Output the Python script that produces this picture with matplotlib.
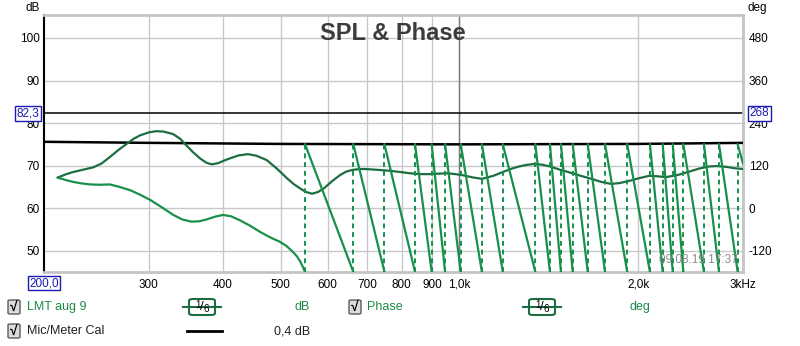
import matplotlib
matplotlib.use('Agg')
import matplotlib.pyplot as plt
from matplotlib.patches import FancyBboxPatch
from matplotlib.lines import Line2D
import numpy as np

plt.rcParams['font.family'] = ['Liberation Sans', 'DejaVu Sans']

# --------------------------------------
# Data
# --------------------------------------
spl_freq = [211, 218, 224, 232, 242, 250, 258, 267, 276, 283, 290, 300, 309, 318,
            330, 339, 347, 356, 366, 375, 383, 393, 402, 411, 425, 441, 456, 474,
            493, 513, 527, 540, 552, 565, 578, 592, 610, 630, 645, 661, 680, 696,
            730, 762, 795, 826, 860, 890, 920, 952, 985, 1017, 1055, 1092, 1140,
            1188, 1225, 1260, 1300, 1342, 1380, 1420, 1480, 1550, 1600, 1658, 1730,
            1800, 1860, 1929, 2000, 2085, 2150, 2226, 2330, 2437, 2530, 2631, 2706,
            2816, 2900, 3000]
spl_db = [67.2, 68.0, 68.5, 69.0, 69.6, 70.5, 72.0, 73.7, 75.2, 76.3, 77.1, 77.8,
          78.1, 78.0, 77.4, 76.3, 74.8, 73.2, 71.7, 70.7, 70.3, 70.6, 71.2, 71.7,
          72.4, 72.7, 72.3, 71.3, 69.3, 67.0, 65.6, 64.6, 63.8, 63.4, 63.8, 64.7,
          66.3, 67.8, 68.6, 69.0, 69.2, 69.2, 69.0, 68.8, 68.5, 68.2, 68.0, 68.0,
          68.1, 68.2, 68.0, 67.7, 67.2, 66.9, 67.6, 68.6, 69.3, 69.8, 70.2, 70.4,
          70.2, 69.8, 69.0, 68.2, 67.6, 67.0, 66.2, 65.7, 65.9, 66.4, 67.0, 67.6,
          67.5, 67.3, 67.8, 68.6, 69.3, 69.8, 69.9, 69.7, 69.4, 69.2]

# phase before the first wrap
phase_freq = [211, 218, 224, 231, 239, 248, 258, 268, 280, 291, 302, 316, 330, 342,
              354, 365, 375, 388, 400, 413, 427, 445, 462, 480, 499, 512, 525, 533,
              540, 546]
phase_deg = [86, 79, 74, 70, 67, 66, 67, 60, 50, 37, 23, 2, -19, -32, -38, -37, -32,
             -24, -19, -23, -34, -50, -67, -82, -95, -107, -124, -136, -151, -168]
# frequencies where phase wraps from -180 to +180
wrap_freq = [550, 663, 748, 842, 898, 946, 1005, 1091, 1183, 1342, 1420, 1482, 1551,
             1644, 1758, 1916, 2092, 2198, 2285, 2381, 2579, 2734, 2939]
phase_end_deg = 126

cal_freq = [200, 300, 500, 1000, 2000, 3000]
cal_db = [75.6, 75.35, 75.1, 75.0, 75.1, 75.35]

x_ticks = [300, 400, 500, 600, 700, 800, 900, 1000, 2000, 3000]
x_labels = ['300', '400', '500', '600', '700', '800', '900', '1,0k', '2,0k', '3kHz']
db_ticks = [50, 60, 70, 80, 90, 100]
deg_ticks = [-120, 0, 120, 240, 360, 480]

spl_color = '#1c6e40'
phase_color = '#17904c'
blue = '#1a1ab4'

W, H = 800, 346


def fx(x):
    return x / W


def fy(y):
    return 1 - y / H


fig = plt.figure(figsize=(8, 3.46), dpi=100)
ax = fig.add_axes([fx(44), fy(272), (743 - 44) / W, (272 - 15) / H])

ax.set_xscale('log')
ax.set_xlim(200, 3000)
ax.set_ylim(45, 105.4)
ax.set_xticks(x_ticks)
ax.set_xticklabels(x_labels)
ax.set_xticks([], minor=True)
ax.set_yticks(db_ticks)
ax.set_yticklabels([str(v) for v in db_ticks])
ax.tick_params(length=0, labelsize=8.5, pad=3)
ax.tick_params(axis='x', pad=5)
ax.grid(True, color='#c8c8c8', linewidth=1)
ax.set_axisbelow(True)
ax.axvline(1000, color='#7a7a7a', linewidth=1, zorder=1)
for side in ['top', 'right', 'bottom']:
    ax.spines[side].set_color('#c4c4c4')
    ax.spines[side].set_linewidth(2)
ax.spines['left'].set_color('black')
ax.spines['left'].set_linewidth(1.5)

# 82,3 marker line
ax.axhline(82.3, color='black', linewidth=1.1, zorder=2)

# curves
ax.plot(cal_freq, cal_db, color='black', linewidth=1.8, zorder=3)
ax.plot(spl_freq, spl_db, color=spl_color, linewidth=1.6, zorder=4)

# phase on the right axis
ax2 = ax.twinx()
ax2.set_ylim((45 - 60) * 12, (105.4 - 60) * 12)
ax2.set_yticks(deg_ticks)
ax2.set_yticklabels([str(v) for v in deg_ticks])
ax2.tick_params(length=0, labelsize=8.5, pad=4)
for side in ax2.spines:
    ax2.spines[side].set_visible(False)

px = list(phase_freq) + [wrap_freq[0]]
py = list(phase_deg) + [-180]
for i in range(len(wrap_freq) - 1):
    px += [np.nan, wrap_freq[i], wrap_freq[i + 1]]
    py += [np.nan, 180, -180]
px += [np.nan, wrap_freq[-1], 3000]
py += [np.nan, 180, phase_end_deg]
ax2.plot(px, py, color=phase_color, linewidth=1.6, zorder=3)
ax2.vlines(wrap_freq, -180, 180, colors=phase_color, linewidth=1.4,
           linestyles=(0, (2.5, 2)), zorder=3)

ax2.text(0.993, 0.025, '09.08.19 17:37', transform=ax2.transAxes, ha='right',
         va='bottom', fontsize=8.5, color='#8a8a8a', zorder=10)

# --------------------------------------
# Titles, unit labels and boxed cursor values
# --------------------------------------
fig.text(fx(393), fy(34), 'SPL & Phase', ha='center', va='center', fontsize=17,
         fontweight='bold', color='#3c3c3c')
fig.text(fx(33), fy(8), 'dB', ha='center', va='center', fontsize=8.5)
fig.text(fx(757), fy(8), 'deg', ha='center', va='center', fontsize=8.5)

box = dict(boxstyle='square,pad=0.12', fc='white', ec=blue, lw=1)
fig.text(fx(28), fy(113.5), '82,3', ha='center', va='center', fontsize=8.5,
         color=blue, bbox=box)
fig.text(fx(759.5), fy(113.5), '268', ha='center', va='center', fontsize=8.5,
         color=blue, bbox=box)
fig.text(fx(44), fy(283), '200,0', ha='center', va='center', fontsize=8.5,
         color=blue, bbox=box)

# --------------------------------------
# Legend rows under the plot
# --------------------------------------
def checkbox(x, y):
    fig.patches.append(FancyBboxPatch((fx(x - 6), fy(y + 7)), 12 / W, 14 / H,
                                      boxstyle='round,pad=0,rounding_size=0.003',
                                      transform=fig.transFigure, fc='#dcdcdc',
                                      ec='#5a5a5a', lw=1))
    fig.text(fx(x), fy(y), '\u221a', ha='center', va='center', fontsize=10,
             fontweight='bold', color='black')


def badge(x, y):
    fig.lines.append(Line2D([fx(x - 19), fx(x + 19)], [fy(y), fy(y)],
                            transform=fig.transFigure, color=spl_color, lw=1.5))
    fig.patches.append(FancyBboxPatch((fx(x - 13), fy(y + 8)), 26 / W, 16 / H,
                                      boxstyle='round,pad=0,rounding_size=0.005',
                                      transform=fig.transFigure, fc='white',
                                      ec=spl_color, lw=1.5))
    fig.text(fx(x - 4), fy(y - 2), '1', ha='center', va='center', fontsize=7)
    fig.text(fx(x), fy(y), '/', ha='center', va='center', fontsize=9.5)
    fig.text(fx(x + 4), fy(y + 2), '6', ha='center', va='center', fontsize=7)


green_txt = '#1f8a48'
checkbox(14, 307)
fig.text(fx(27), fy(307), 'LMT aug 9', ha='left', va='center', fontsize=9,
         color=green_txt)
badge(202, 307)
fig.text(fx(310), fy(307), 'dB', ha='right', va='center', fontsize=9, color=green_txt)

checkbox(355, 307)
fig.text(fx(367), fy(307), 'Phase', ha='left', va='center', fontsize=9,
         color=green_txt)
badge(542, 307)
fig.text(fx(630), fy(307), 'deg', ha='left', va='center', fontsize=9, color=green_txt)

checkbox(14, 331)
fig.text(fx(27), fy(331), 'Mic/Meter Cal', ha='left', va='center', fontsize=9,
         color='#202020')
fig.lines.append(Line2D([fx(187), fx(222)], [fy(331), fy(331)],
                        transform=fig.transFigure, color='black', lw=2))
fig.text(fx(310), fy(331), '0,4 dB', ha='right', va='center', fontsize=9,
         color='#202020')

fig.savefig('out.png', dpi=100)
